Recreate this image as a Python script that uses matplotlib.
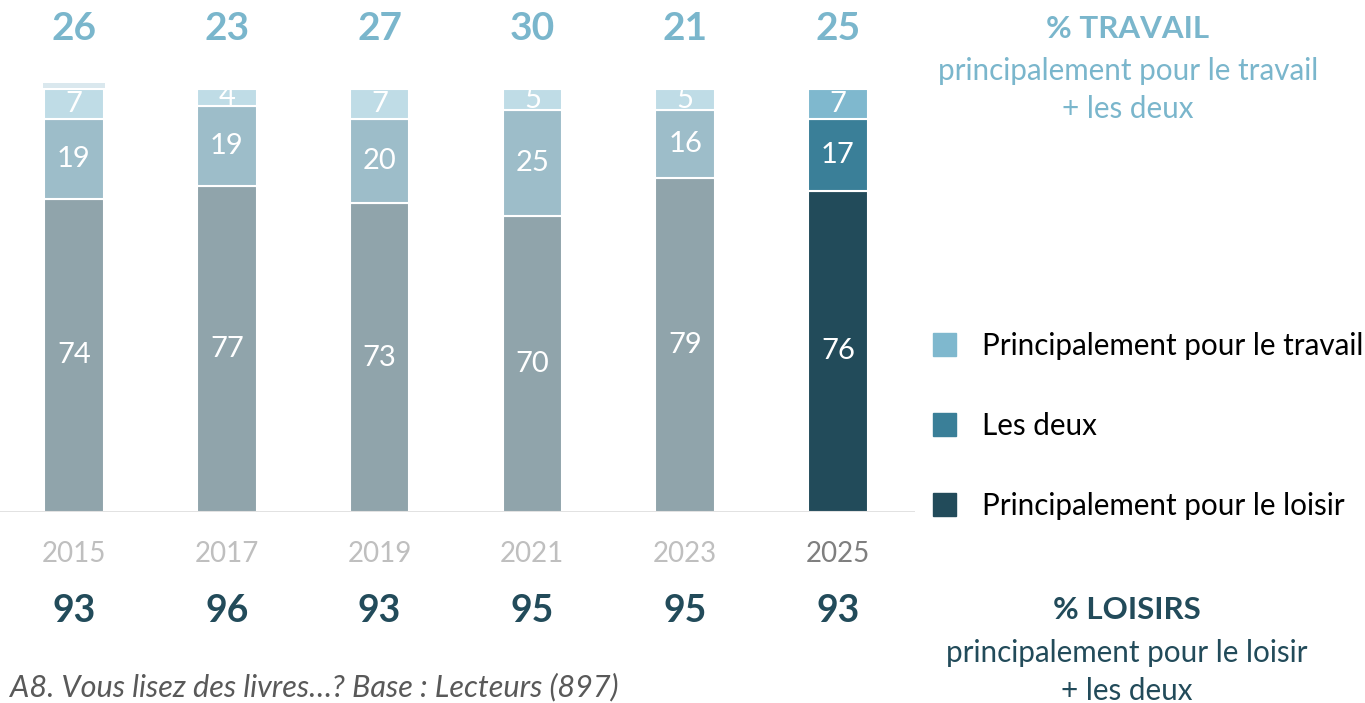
import matplotlib
matplotlib.use("Agg")
import matplotlib.pyplot as plt
from matplotlib.patches import Rectangle

plt.rcParams['font.family'] = ['Lato', 'DejaVu Sans']

years = ["2015", "2017", "2019", "2021", "2023", "2025"]
loisir = [74, 77, 73, 70, 79, 76]
deux = [19, 19, 20, 25, 16, 17]
travail = [7, 4, 7, 5, 5, 7]
extra = [1.2, 0, 0, 0, 0, 0]
top_totals = [26, 23, 27, 30, 21, 25]
bottom_totals = [93, 96, 93, 95, 95, 93]

past_cols = {"loisir": "#90A4AB", "deux": "#9DBDC9", "travail": "#BFDCE6"}
cur_cols = {"loisir": "#224B5A", "deux": "#3A7F98", "travail": "#7FB8CE"}
light_blue = "#7AB6CC"
dark = "#224B5A"

W, H = 1365, 703
fig = plt.figure(figsize=(W / 100, H / 100), dpi=100)

def fx(px):
    return px / W

def fy(py):
    return 1 - py / H

ax = fig.add_axes([0, fy(512), fx(915), (512 - 89) / H])
n = len(years)
xs = list(range(n))
ax.set_xlim(-0.484, 5.504)
ax.set_ylim(0, 100)
ax.axis('off')

bw = 0.39
for i in xs:
    cols = cur_cols if i == n - 1 else past_cols
    ax.bar(i, loisir[i], bw, color=cols["loisir"], edgecolor='white', linewidth=1.5)
    ax.bar(i, deux[i], bw, bottom=loisir[i], color=cols["deux"], edgecolor='white', linewidth=1.5)
    ax.bar(i, travail[i], bw, bottom=loisir[i] + deux[i], color=cols["travail"], edgecolor='white', linewidth=1.5)
    if extra[i] > 0:
        ax.bar(i, extra[i], bw * 1.05, bottom=loisir[i] + deux[i] + travail[i] + 0.3,
               color="#DAE8EE", linewidth=0, clip_on=False)
    lab_kw = dict(ha='center', va='center', color='white', fontsize=21)
    ax.text(i, loisir[i] / 2, str(loisir[i]), **lab_kw)
    ax.text(i, loisir[i] + deux[i] / 2, str(deux[i]), **lab_kw)
    ax.text(i, loisir[i] + deux[i] + travail[i] / 2, str(travail[i]), **lab_kw)
    # top totals
    ax.annotate(str(top_totals[i]), xy=(i, fy(28)), xycoords=('data', 'figure fraction'),
                ha='center', va='center', fontsize=28, fontweight='bold', color=light_blue,
                annotation_clip=False)
    # years
    ax.annotate(years[i], xy=(i, fy(554)), xycoords=('data', 'figure fraction'),
                ha='center', va='center', fontsize=20,
                color="#7F7F7F" if i == n - 1 else "#BFBFBF", annotation_clip=False)
    # bottom totals
    ax.annotate(str(bottom_totals[i]), xy=(i, fy(611)), xycoords=('data', 'figure fraction'),
                ha='center', va='center', fontsize=27, fontweight='bold', color=dark,
                annotation_clip=False)

ax.axhline(0, color="#D9D9D9", linewidth=1.8, xmin=0, xmax=1)

# Right-hand texts
fig.text(fx(1128), fy(29), "% TRAVAIL", ha='center', va='center', fontsize=22.5,
         fontweight='bold', color=light_blue)
fig.text(fx(1128), fy(71), "principalement pour le travail", ha='center', va='center',
         fontsize=21.3, color=light_blue)
fig.text(fx(1128), fy(109), "+ les deux", ha='center', va='center', fontsize=21.3, color=light_blue)

fig.text(fx(1127), fy(610), "% LOISIRS", ha='center', va='center', fontsize=22.5,
         fontweight='bold', color=dark)
fig.text(fx(1127), fy(653), "principalement pour le loisir", ha='center', va='center',
         fontsize=21.3, color=dark)
fig.text(fx(1127), fy(691), "+ les deux", ha='center', va='center', fontsize=21.3, color=dark)

# Legend
legend_items = [("Principalement pour le travail", cur_cols["travail"], 345),
                ("Les deux", cur_cols["deux"], 425),
                ("Principalement pour le loisir", cur_cols["loisir"], 505)]
for label, col, ypx in legend_items:
    fig.patches.append(Rectangle((fx(933), fy(ypx + 11)), fx(23), 23 / H, color=col,
                                 transform=fig.transFigure, figure=fig))
    fig.text(fx(982), fy(ypx + 1), label, ha='left', va='center', fontsize=21.3, color='black')

fig.text(fx(10), fy(687), "A8. Vous lisez des livres…? Base : Lecteurs (897)", ha='left',
         va='center', fontsize=22.1, style='italic', color="#595959")

fig.savefig("out.png", dpi=100)
